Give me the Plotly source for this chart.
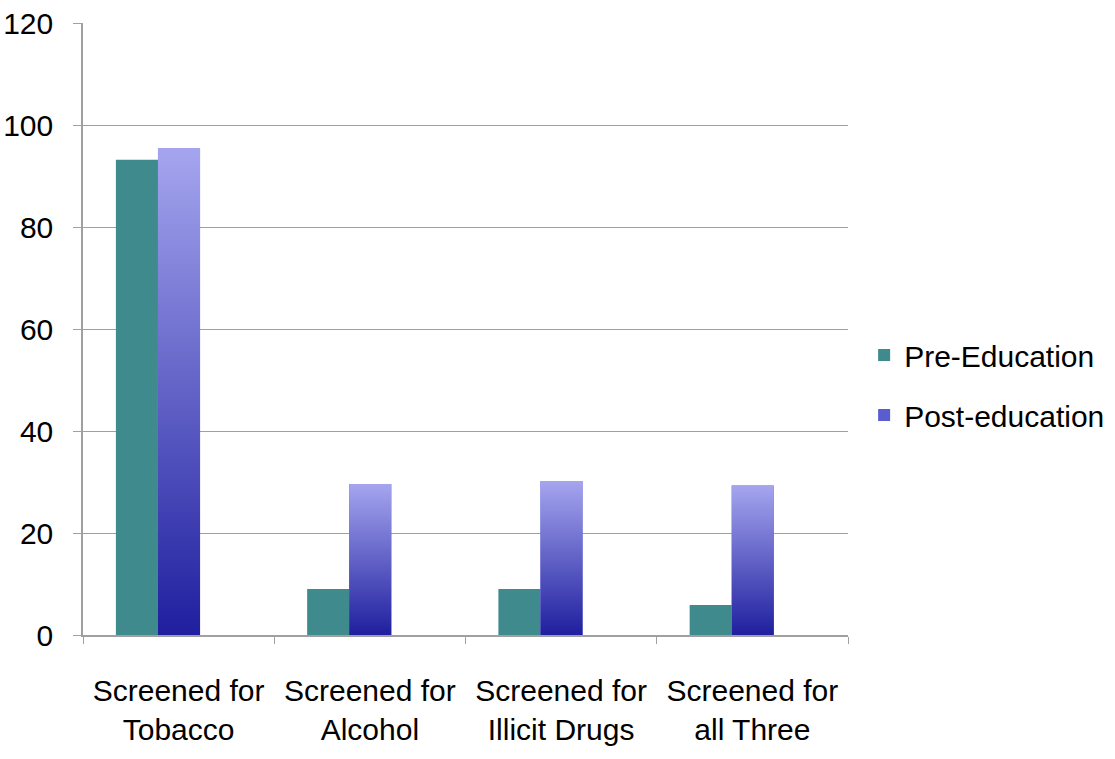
import plotly.graph_objects as go

categories = ["Screened for<br>Tobacco", "Screened for<br>Alcohol", "Screened for<br>Illicit Drugs", "Screened for<br>all Three"]
pre_education = [93.2, 9.0, 9.0, 5.9]
post_education = [95.5, 29.6, 30.2, 29.3]
y_ticks = [0, 20, 40, 60, 80, 100, 120]

FONT = "Liberation Sans, Arial, Helvetica, sans-serif"
FS = 30
PRE_COLOR = "#3e8a8d"
POST_DARK = "#1f1f9f"
POST_LIGHT = "#a5a5ef"
POST_MID = "#5c5cd2"
W = 0.22
PRE_OFF = -0.328
POST_OFF = PRE_OFF + W

fig = go.Figure()
fig.add_trace(go.Bar(x=categories, y=pre_education, name="Pre-Education",
                     marker=dict(color=PRE_COLOR, line=dict(width=0)),
                     width=W, offset=PRE_OFF, legendgroup="pre"))
fig.add_trace(go.Bar(x=categories, y=post_education, name="Post-education",
                     marker=dict(color=POST_MID, line=dict(width=0)),
                     width=W, offset=POST_OFF, legendgroup="post"))

# vertical gradient overlay for post-education bars
for i, v in enumerate(post_education):
    x0 = i + POST_OFF
    x1 = x0 + W
    fig.add_trace(go.Scatter(
        x=[x0, x1, x1, x0, x0], y=[0, 0, v, v, 0], xaxis="x2",
        mode="lines", line=dict(width=0), fill="toself",
        fillgradient=dict(type="vertical",
                          colorscale=[[0, POST_DARK], [1, POST_LIGHT]]),
        showlegend=False, hoverinfo="skip", legendgroup="post"))

fig.update_layout(
    width=1115, height=759,
    margin=dict(l=83, r=267, t=23, b=124),
    paper_bgcolor="white", plot_bgcolor="white",
    font=dict(family=FONT, size=FS, color="black"),
    barmode="group",
    showlegend=True,
    legend=dict(xref="container", yref="container", x=0.775, y=0.4927,
                xanchor="left", yanchor="middle",
                font=dict(size=FS), traceorder="grouped", tracegroupgap=18),
    xaxis=dict(type="category", showline=True, linecolor="#a0a0a0", linewidth=1.5,
               ticks="outside", tickson="boundaries", ticklen=7, tickcolor="#a0a0a0",
               showgrid=False, tickfont=dict(size=FS), range=[-0.5, 3.5],
               tickangle=0, automargin=False, ticklabelstandoff=28),
    xaxis2=dict(overlaying="x", range=[-0.5, 3.5], visible=False),
    yaxis=dict(range=[0, 120], tickvals=y_ticks, showline=True, linecolor="#a0a0a0",
               linewidth=1.5, ticks="outside", ticklen=8, tickcolor="#a0a0a0",
               showgrid=True, gridcolor="#a0a0a0", gridwidth=1.2,
               tickfont=dict(size=FS), ticklabelstandoff=14, zeroline=False,
               automargin=False),
)

fig.write_html("out.html")
